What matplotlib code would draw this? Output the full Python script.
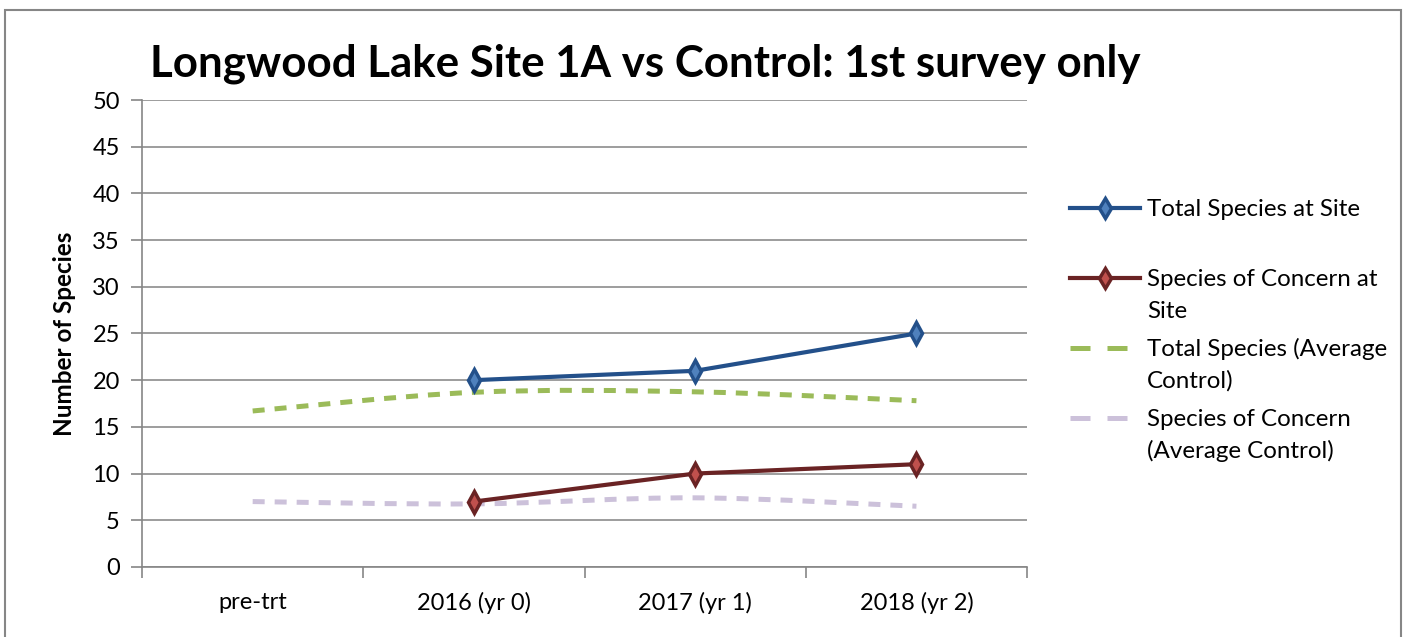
import numpy as np
import matplotlib.pyplot as plt
from matplotlib.path import Path
from matplotlib.patches import PathPatch, Rectangle
from matplotlib.lines import Line2D

plt.rcParams['font.family'] = ['Lato', 'DejaVu Sans']

categories = ['pre-trt', '2016 (yr 0)', '2017 (yr 1)', '2018 (yr 2)']
total_site = [np.nan, 20, 21, 25]
concern_site = [np.nan, 7, 10, 11]
total_control = [16.7, 18.7, 18.75, 17.8]
concern_control = [7.0, 6.75, 7.4, 6.5]

labels = ['Total Species at Site', 'Species of Concern at\nSite',
          'Total Species (Average\nControl)', 'Species of Concern\n(Average Control)']

blue, blue_face = '#23508a', '#4f81bd'
red, red_face = '#6a2324', '#c0504d'
green = '#9bbb59'
lilac = '#ccc1da'


def smooth_path(xs, ys):
    # excel-style smoothed line: catmull-rom segments as cubic beziers
    p = np.column_stack([xs, ys]).astype(float)
    verts = [p[0]]
    codes = [Path.MOVETO]
    n = len(p)
    for i in range(n - 1):
        p0 = p[i - 1] if i > 0 else p[i]
        p3 = p[i + 2] if i + 2 < n else p[i + 1]
        c1 = p[i] + (p[i + 1] - p0) / 6
        c2 = p[i + 1] - (p3 - p[i]) / 6
        verts += [c1, c2, p[i + 1]]
        codes += [Path.CURVE4] * 3
    return Path(verts, codes)


fig = plt.figure(figsize=(14.05, 6.37), dpi=100)
ax = fig.add_axes([0.1011, 0.110, 0.6299, 0.733])

x = np.arange(len(categories))

dash_kw = dict(lw=3.6, linestyle=(0, (2.4, 2.0)), fill=False)
ax.add_patch(PathPatch(smooth_path(x, total_control), edgecolor=green, **dash_kw))
ax.add_patch(PathPatch(smooth_path(x, concern_control), edgecolor=lilac, **dash_kw))

ax.plot(x, total_site, color=blue, lw=3, marker='d', ms=11,
        mfc=blue_face, mec=blue, mew=2.5, zorder=5)
ax.plot(x, concern_site, color=red, lw=3, marker='d', ms=11,
        mfc=red_face, mec=red, mew=2.5, zorder=5)

ax.set_xlim(-0.5, 3.5)
ax.set_ylim(0, 50)
ax.set_yticks(np.arange(0, 51, 5))
ax.set_xticks(x)
ax.set_xticklabels(categories)
ax.set_xticks(np.arange(-0.5, 3.6, 1), minor=True)
ax.tick_params(axis='x', which='major', length=0, labelsize=17, pad=18)
ax.tick_params(axis='x', which='minor', length=8, color='#868686', width=1.2)
ax.tick_params(axis='y', length=8, color='#868686', width=1.2, labelsize=17, pad=8)
ax.yaxis.grid(True, color='#8c8c8c', lw=1.2)
ax.set_axisbelow(True)
for s in ['top', 'right']:
    ax.spines[s].set_visible(False)
for s in ['left', 'bottom']:
    ax.spines[s].set_color('#868686')
    ax.spines[s].set_linewidth(1.2)

ax.set_ylabel('Number of Species', fontsize=17.5, fontweight='bold', labelpad=12)

fig.text(0.459, 0.900, 'Longwood Lake Site 1A vs Control: 1st survey only',
         fontsize=31.6, fontweight='bold', ha='center', va='center')

# legend drawn by hand so handles sit on the first text line
W, H = 1405, 637
leg_y = [208, 278, 348, 418]
styles = [
    dict(color=blue, lw=3, marker='d', ms=10, mfc=blue_face, mec=blue, mew=2.5, markevery=[1]),
    dict(color=red, lw=3, marker='d', ms=10, mfc=red_face, mec=red, mew=2.5, markevery=[1]),
    dict(color=green, lw=3.6, linestyle=(0, (4.0, 3.4))),
    dict(color=lilac, lw=3.6, linestyle=(0, (4.0, 3.4))),
]
for yy, lab, st in zip(leg_y, labels, styles):
    yf = 1 - yy / H
    fig.add_artist(Line2D([1070 / W, 1105 / W, 1140 / W], [yf, yf, yf], **st))
    for i, line in enumerate(lab.split('\n')):
        fig.text(1147 / W, 1 - (yy + 8 + 32 * i) / H, line, fontsize=17.4,
                 ha='left', va='baseline')

fig.add_artist(Rectangle((5 / W, -0.01), 1396 / W, 1 - 10 / H + 0.01,
                         transform=fig.transFigure, fill=False,
                         edgecolor='#868686', lw=1.5))

fig.savefig('out.png', dpi=100)
